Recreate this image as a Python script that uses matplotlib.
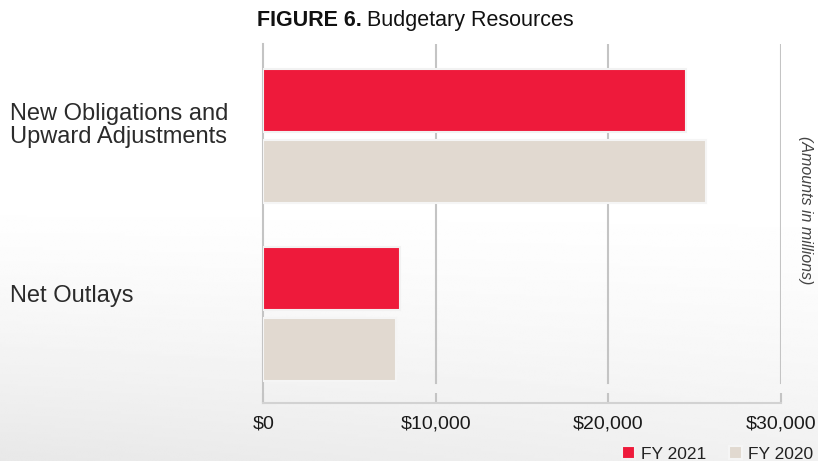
import numpy as np
import matplotlib
matplotlib.use("Agg")
import matplotlib.pyplot as plt
import matplotlib.transforms as mtransforms

plt.rcParams['font.family'] = ['Liberation Sans', 'DejaVu Sans']

# data (amounts in millions)
categories = ["New Obligations and\nUpward Adjustments", "Net Outlays"]
fy2021 = [24480, 7920]
fy2020 = [25640, 7690]
xticks = [0, 10000, 20000, 30000]
xtick_labels = ["$0", "$10,000", "$20,000", "$30,000"]

red = "#EE1A3B"
beige = "#E1D9D0"
grid_col = "#c4c4c4"

fig = plt.figure(figsize=(8.18, 4.61), dpi=100)

# faint grey wash in the lower part of the page
bg = fig.add_axes([0, 0, 1, 1], zorder=-10)
yy, xx = np.mgrid[0:1:200j, 0:1:200j]
shade = np.clip((yy - 0.42) / 0.58, 0, 1) ** 1.3 * (0.09 - 0.035 * xx)
bg.imshow(1 - shade, cmap="gray", vmin=0, vmax=1, aspect="auto",
          extent=[0, 1, 0, 1], origin="upper", interpolation="bilinear")
bg.axis("off")

ax = fig.add_axes([263.3 / 818, 1 - 403 / 461, (781 - 263.3) / 818, (403 - 44) / 461])
ax.set_facecolor("none")

pos = np.arange(len(categories))
h = 0.353
ax.barh(pos - 0.199, fy2021, height=h, color=red, edgecolor="#f2f2f2", linewidth=1.5,
        label="FY 2021", zorder=3)
ax.barh(pos + 0.199, fy2020, height=h, color=beige, edgecolor="#f5f5f5", linewidth=1.5,
        label="FY 2020", zorder=3)

ax.set_xlim(0, 30000)
ax.set_ylim(1.496, -0.515)

for v in xticks[1:]:
    ax.axvline(v, ymin=20 / 359, ymax=1, color=grid_col, lw=1.5, zorder=1)

ax.set_xticks(xticks)
ax.set_xticklabels(xtick_labels, fontsize=14, color="#1a1a1a")
ax.tick_params(axis="x", direction="in", length=7, width=1.5, color=grid_col, pad=9)
ax.set_yticks([])
for s in ["top", "right"]:
    ax.spines[s].set_visible(False)
ax.spines["left"].set_color(grid_col)
ax.spines["left"].set_linewidth(1.5)
ax.spines["bottom"].set_color("#d2d2d2")
ax.spines["bottom"].set_linewidth(1.5)

# category labels at the left edge of the figure (baseline = last line)
trans = mtransforms.blended_transform_factory(fig.transFigure, ax.transData)
label_dy = [0.039, -0.07]
for i, lab in enumerate(categories):
    ax.text(10 / 818, pos[i] + label_dy[i], lab, transform=trans, fontsize=17,
            color="#2b2b2b", ha="left", va="baseline", linespacing=1.05)

# title: bold part + regular part
t1 = fig.text(257 / 818, 1 - 26 / 461, "FIGURE 6.", fontsize=15.5, weight="bold",
              color="#111111", ha="left", va="baseline")
fig.canvas.draw()
bb = t1.get_window_extent()
fig.text(bb.x1 / 818 + 5 / 818, 1 - 26 / 461, "Budgetary Resources", fontsize=15.5,
         color="#111111", ha="left", va="baseline")

fig.text(805 / 818, 1 - 210 / 461, "(Amounts in millions)", fontsize=11.5, style="italic",
         color="#444444", rotation=-90, ha="center", va="center")

fig.legend(loc="lower right", bbox_to_anchor=(1.013, -0.035), ncol=2, frameon=False,
           fontsize=12.5, handlelength=0.75, handleheight=0.75, handletextpad=0.35,
           columnspacing=1.3, labelcolor="#222222")

fig.savefig("out.png", dpi=100)
